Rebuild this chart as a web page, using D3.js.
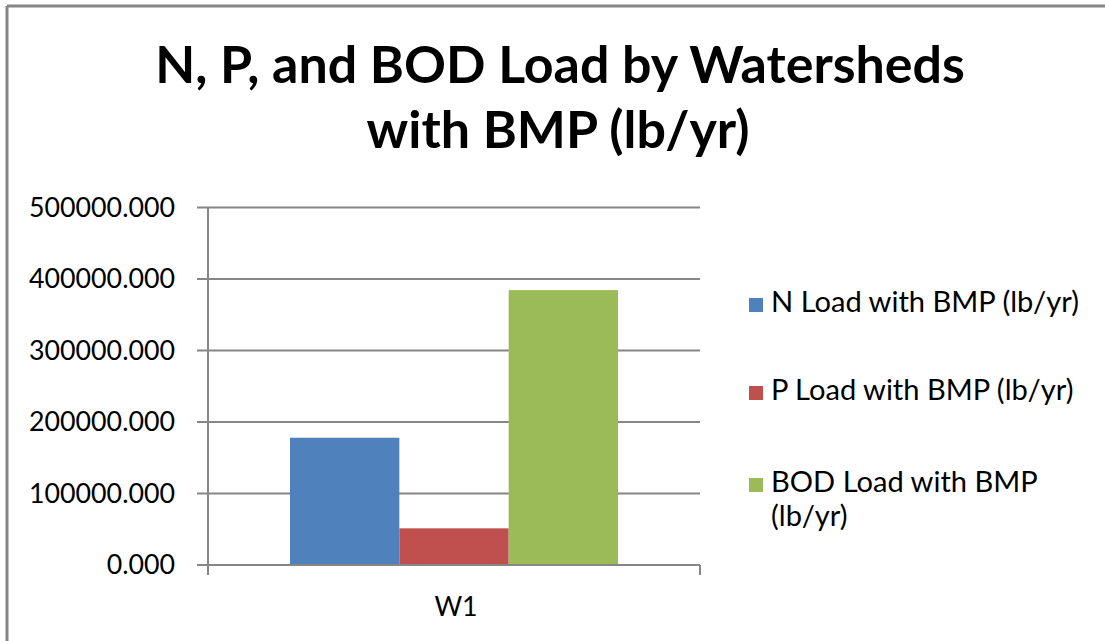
<!DOCTYPE html>
<html><head><meta charset="utf-8">
<script src="https://cdnjs.cloudflare.com/ajax/libs/d3/7.8.5/d3.min.js"></script>
<style>
html,body{margin:0;padding:0;background:#fff;}
svg{display:block;}
text{font-family:Lato,"Open Sans","Liberation Sans",sans-serif;fill:#000;}
</style></head>
<body>
<svg id="chart" width="1105" height="641"></svg>
<script>
const categories = ["W1"];
const seriesNames = ["N Load with BMP (lb/yr)", "P Load with BMP (lb/yr)", "BOD Load with BMP (lb/yr)"];
const nLoad = [178000];
const pLoad = [51300];
const bodLoad = [384500];
const yTicks = [0, 100000, 200000, 300000, 400000, 500000];
const titleLines = ["N, P, and BOD Load by Watersheds", "with BMP (lb/yr)"];
const colors = ["#4F81BD", "#C0504D", "#9BBB59"];

const seriesValues = [nLoad, pLoad, bodLoad];
const svg = d3.select("#chart");

function fit(sel, target) {
  const node = sel.node();
  const fs = parseFloat(sel.attr("font-size"));
  const w = node.getComputedTextLength();
  const nfs = fs * target / w;
  sel.attr("font-size", nfs);
  return nfs;
}

// outer border (top and left visible)
svg.append("line").attr("x1", 7).attr("x2", 1105).attr("y1", 6).attr("y2", 6)
  .attr("stroke", "#868686").attr("stroke-width", 3);
svg.append("line").attr("x1", 7).attr("x2", 7).attr("y1", 6).attr("y2", 641)
  .attr("stroke", "#868686").attr("stroke-width", 3);

// title
const t1 = svg.append("text").attr("x", 560).attr("y", 83).attr("text-anchor", "middle")
  .attr("font-weight", "bold").attr("font-size", 48).text(titleLines[0]);
const tfs = fit(t1, 810);
svg.append("text").attr("x", 558).attr("y", 148).attr("text-anchor", "middle")
  .attr("font-weight", "bold").attr("font-size", tfs).text(titleLines[1]);

const plot = {left: 208, right: 700, top: 207.5, bottom: 565};
const y = d3.scaleLinear().domain([0, 500000]).range([plot.bottom, plot.top]);
const x0 = d3.scaleBand().domain(categories).range([plot.left, plot.right]).paddingInner(0).paddingOuter(0.25);
const x1 = d3.scaleBand().domain(d3.range(seriesNames.length)).range([0, x0.bandwidth()]).padding(0);

// gridlines
svg.append("g").selectAll("line").data(yTicks).join("line")
  .attr("x1", plot.left - 11).attr("x2", plot.right)
  .attr("y1", d => y(d)).attr("y2", d => y(d))
  .attr("stroke", "#868686").attr("stroke-width", 2);

// bars
const g = svg.append("g");
categories.forEach((c, ci) => {
  seriesValues.forEach((vals, si) => {
    g.append("rect")
      .attr("x", x0(c) + x1(si))
      .attr("width", x1.bandwidth())
      .attr("y", y(vals[ci]))
      .attr("height", y(0) - y(vals[ci]))
      .attr("fill", colors[si]);
  });
});

// axes lines
svg.append("line").attr("x1", plot.left).attr("x2", plot.left).attr("y1", plot.top).attr("y2", plot.bottom + 10)
  .attr("stroke", "#868686").attr("stroke-width", 2);
svg.append("line").attr("x1", plot.left).attr("x2", plot.right).attr("y1", plot.bottom).attr("y2", plot.bottom)
  .attr("stroke", "#868686").attr("stroke-width", 2);
svg.append("line").attr("x1", plot.right).attr("x2", plot.right).attr("y1", plot.bottom).attr("y2", plot.bottom + 10)
  .attr("stroke", "#868686").attr("stroke-width", 2);

// y tick labels
const fmt = d3.format(".3f");
const probe = svg.append("text").attr("font-size", 26).text(fmt(500000));
const lfs = fit(probe, 146);
probe.remove();
svg.append("g").selectAll("text").data(yTicks).join("text")
  .attr("x", 175).attr("y", d => y(d)).attr("dy", "0.35em")
  .attr("text-anchor", "end").attr("font-size", lfs).attr("fill", "#000")
  .text(d => fmt(d));

// x labels
svg.append("g").selectAll("text").data(categories).join("text")
  .attr("x", d => x0(d) + x0.bandwidth() / 2 + 2).attr("y", 616)
  .attr("text-anchor", "middle").attr("font-size", lfs).text(d => d);

// legend
const lg = svg.append("g");
const p0 = lg.append("text").attr("font-size", 26).text(seriesNames[0]);
const legFs = fit(p0, 308);
p0.remove();
const legendRows = [
  {lines: [seriesNames[0]], base: 312},
  {lines: [seriesNames[1]], base: 400},
  {lines: ["BOD Load with BMP", "(lb/yr)"], base: 492}
];
legendRows.forEach((r, i) => {
  lg.append("rect").attr("x", 749).attr("y", r.base - 14).attr("width", 14).attr("height", 14)
    .attr("fill", colors[i]);
  r.lines.forEach((ln, j) => {
    lg.append("text").attr("x", 771).attr("y", r.base + j * 34)
      .attr("font-size", legFs).text(ln);
  });
});
</script>
</body></html>
